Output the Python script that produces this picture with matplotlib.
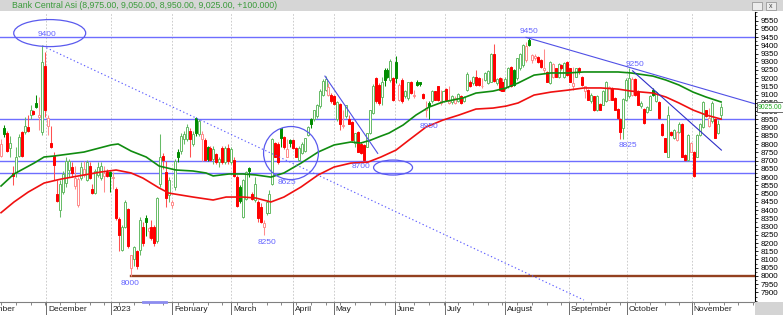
import numpy as np
import matplotlib
matplotlib.use("Agg")
import matplotlib.pyplot as plt
import matplotlib.transforms as mtransforms
from matplotlib.patches import Ellipse, Rectangle
from matplotlib.ticker import MultipleLocator

plt.rcParams["font.family"] = ["Liberation Sans", "DejaVu Sans"]

TICKER = "Bank Central Asi"
PREV_CLOSE = 8840  # close of the session just before the first candle

# daily candles, Nov 2022 -> Nov 2023
opens = [
    8730, 8900, 8870, 8775, 8625, 8625, 8730, 8875, 8875, 8905,
    8975, 9000, 9050, 8965, 8875, 9275, 8910, 8805, 8730, 8500,
    8400, 8510, 8565, 8645, 8660, 8545, 8430, 8595, 8610, 8585,
    8665, 8530, 8505, 8610, 8595, 8605, 8630, 8630, 8595, 8530,
    8345, 8160, 8300, 8405, 8050, 8100, 8150, 8160, 8300, 8350,
    8270, 8300, 8300, 8210, 8560, 8730, 8630, 8490, 8430, 8540,
    8755, 8760, 8830, 8830, 8880, 8800, 8960, 8860, 8830, 8825,
    8780, 8775, 8710, 8740, 8690, 8775, 8690, 8775, 8690, 8705,
    8600, 8540, 8360, 8470, 8655, 8500, 8460, 8450, 8420, 8300,
    8380, 8385, 8560, 8805, 8800, 8895, 8845, 8725, 8825, 8825,
    8775, 8705, 8745, 8760, 8855, 8950, 8950, 8970, 9030, 9100,
    9130, 9100, 9100, 9095, 8950, 9045, 8910, 8970, 8955, 8935,
    8805, 8875, 8800, 8795, 8785, 8865, 8990, 9200, 9160, 9088,
    9250, 9250, 9190, 9200, 9300, 9070, 9190, 9090, 9080, 9175,
    9090, 9180, 9175, 9105, 9010, 9047, 9060, 9120, 9150, 9050,
    9060, 9135, 9050, 9055, 9050, 9060, 9095, 9060, 9130, 9180,
    9170, 9210, 9200, 9150, 9190, 9170, 9180, 9345, 9170, 9200,
    9180, 9140, 9150, 9270, 9250, 9200, 9260, 9280, 9310, 9432,
    9310, 9320, 9330, 9310, 9250, 9240, 9170, 9210, 9260, 9210,
    9280, 9210, 9300, 9260, 9150, 9210, 9262, 9210, 9120, 9130,
    9060, 9090, 9010, 9045, 9040, 9060, 9070, 9140, 9080, 9015,
    8955, 8895, 9070, 9090, 9100, 9195, 9125, 9030, 9015, 8995,
    9010, 9130, 9060, 9055, 8925, 8835, 8725, 8875, 8835, 8825,
    8875, 8925, 8735, 8705, 8755, 8755, 8725, 8855, 8905, 9005,
    8910, 8940, 8955, 8870, 8975,
]
highs = [
    8830, 8915, 8880, 8850, 8665, 8785, 8860, 8880, 8965, 8975,
    9040, 9010, 9100, 9085, 9400, 9360, 8975, 8910, 8750, 8580,
    8580, 8640, 8720, 8710, 8690, 8665, 8600, 8690, 8700, 8705,
    8690, 8560, 8650, 8690, 8690, 8665, 8650, 8640, 8630, 8540,
    8360, 8310, 8460, 8410, 8130, 8180, 8160, 8360, 8330, 8370,
    8300, 8340, 8310, 8480, 8860, 8745, 8700, 8600, 8460, 8710,
    8770, 8870, 8880, 8920, 8900, 8880, 8965, 8950, 8880, 8835,
    8790, 8790, 8790, 8745, 8720, 8790, 8790, 8800, 8780, 8720,
    8610, 8550, 8590, 8640, 8660, 8510, 8600, 8460, 8440, 8340,
    8460, 8520, 8840, 8810, 8810, 8900, 8850, 8830, 8830, 8830,
    8780, 8790, 8810, 8840, 8910, 8960, 9010, 9045, 9135, 9195,
    9215, 9170, 9110, 9100, 9060, 9050, 9010, 9040, 8975, 8940,
    8870, 8880, 8810, 8800, 8870, 9010, 9165, 9210, 9170, 9210,
    9260, 9260, 9315, 9210, 9335, 9170, 9200, 9130, 9180, 9185,
    9130, 9190, 9180, 9110, 9060, 9060, 9130, 9125, 9155, 9130,
    9130, 9140, 9150, 9100, 9090, 9110, 9100, 9090, 9235, 9190,
    9215, 9250, 9205, 9200, 9235, 9250, 9355, 9405, 9200, 9205,
    9200, 9205, 9270, 9275, 9255, 9325, 9355, 9405, 9420, 9445,
    9350, 9350, 9335, 9315, 9380, 9245, 9305, 9290, 9265, 9290,
    9285, 9300, 9305, 9265, 9270, 9265, 9270, 9215, 9155, 9135,
    9110, 9095, 9100, 9050, 9130, 9185, 9150, 9145, 9085, 9020,
    8960, 9080, 9200, 9260, 9205, 9200, 9130, 9060, 9020, 9030,
    9100, 9140, 9120, 9060, 8930, 8840, 9030, 8880, 8890, 8880,
    8935, 8930, 8740, 8860, 8810, 8760, 8860, 8930, 9060, 9010,
    9020, 9060, 8960, 8945, 9050,
]
lows = [
    8720, 8845, 8750, 8725, 8555, 8600, 8720, 8725, 8860, 8875,
    8950, 8975, 9020, 8885, 8855, 8965, 8855, 8775, 8580, 8450,
    8360, 8500, 8540, 8600, 8600, 8525, 8420, 8580, 8600, 8575,
    8590, 8500, 8500, 8600, 8585, 8510, 8600, 8510, 8530, 8340,
    8150, 8150, 8290, 8170, 8000, 8060, 8040, 8130, 8180, 8240,
    8230, 8220, 8180, 8200, 8540, 8650, 8420, 8450, 8410, 8520,
    8690, 8740, 8800, 8820, 8720, 8790, 8850, 8850, 8700, 8700,
    8700, 8700, 8680, 8680, 8660, 8680, 8680, 8680, 8680, 8600,
    8420, 8440, 8350, 8460, 8600, 8460, 8450, 8330, 8320, 8250,
    8370, 8380, 8550, 8720, 8680, 8780, 8770, 8720, 8780, 8770,
    8720, 8700, 8740, 8750, 8850, 8900, 8940, 8960, 9020, 9090,
    9120, 9090, 9050, 9040, 8940, 8885, 8900, 8960, 8920, 8820,
    8780, 8750, 8740, 8700, 8780, 8860, 8980, 9050, 9040, 9040,
    9150, 9200, 9180, 9060, 9170, 9060, 9050, 9080, 9070, 9105,
    9080, 9150, 9150, 9075, 8965, 8955, 9050, 9065, 9060, 9040,
    9055, 9065, 9045, 9045, 9045, 9055, 9045, 9055, 9120, 9145,
    9160, 9155, 9155, 9140, 9185, 9165, 9175, 9175, 9160, 9125,
    9120, 9130, 9140, 9145, 9155, 9190, 9250, 9270, 9300, 9395,
    9290, 9310, 9295, 9265, 9230, 9175, 9165, 9200, 9205, 9200,
    9250, 9200, 9215, 9175, 9130, 9205, 9225, 9155, 9080, 9065,
    9050, 9000, 9000, 9005, 9035, 9055, 9065, 9065, 9005, 8955,
    8830, 8830, 9060, 9080, 9090, 9095, 9035, 9020, 8925, 8990,
    9005, 9095, 9055, 8955, 8850, 8750, 8720, 8850, 8830, 8820,
    8870, 8720, 8700, 8700, 8750, 8600, 8720, 8850, 8900, 8965,
    8905, 8930, 8835, 8860, 8950,
]
closes = [
    8800, 8860, 8760, 8805, 8605, 8725, 8845, 8730, 8910, 8880,
    9005, 8985, 9025, 8975, 9300, 9005, 8960, 8780, 8675, 8455,
    8560, 8620, 8700, 8700, 8625, 8595, 8590, 8660, 8650, 8690,
    8595, 8505, 8640, 8660, 8665, 8625, 8605, 8605, 8600, 8350,
    8250, 8300, 8450, 8180, 8125, 8175, 8060, 8340, 8200, 8330,
    8290, 8230, 8200, 8475, 8720, 8705, 8475, 8580, 8450, 8700,
    8725, 8850, 8860, 8905, 8830, 8860, 8870, 8940, 8860, 8705,
    8710, 8705, 8770, 8690, 8710, 8690, 8775, 8695, 8770, 8605,
    8425, 8455, 8580, 8630, 8635, 8465, 8560, 8350, 8330, 8320,
    8450, 8500, 8830, 8725, 8690, 8835, 8780, 8770, 8805, 8775,
    8725, 8775, 8800, 8835, 8905, 8925, 9005, 9035, 9125, 9185,
    9195, 9145, 9060, 9045, 9055, 8925, 8915, 9035, 8925, 8825,
    8865, 8755, 8745, 8705, 8865, 9005, 9155, 9060, 9050, 9180,
    9190, 9210, 9305, 9070, 9200, 9160, 9060, 9120, 9175, 9110,
    9100, 9160, 9165, 9080, 9020, 9030, 9125, 9070, 9065, 9060,
    9125, 9070, 9060, 9095, 9080, 9105, 9050, 9085, 9225, 9150,
    9210, 9160, 9158, 9155, 9230, 9245, 9345, 9185, 9195, 9130,
    9125, 9195, 9265, 9150, 9160, 9320, 9350, 9400, 9395, 9401,
    9340, 9335, 9300, 9270, 9265, 9180, 9300, 9285, 9210, 9285,
    9260, 9295, 9220, 9180, 9170, 9260, 9240, 9160, 9150, 9070,
    9100, 9010, 9095, 9010, 9125, 9180, 9145, 9070, 9010, 8960,
    8875, 9075, 9190, 9200, 9195, 9100, 9040, 9050, 8930, 9025,
    9095, 9100, 9115, 8960, 8855, 8755, 8975, 8855, 8885, 8875,
    8925, 8725, 8705, 8855, 8805, 8605, 8855, 8925, 9055, 8970,
    8960, 9050, 8840, 8925, 9025,
]

# moving averages (candle position, price)
green_pos = [0, 4.4, 11.2, 14.6, 18.0, 28.1, 37.3, 39.7, 44.1, 49.2,
             53.6, 59.3, 65.1, 69.5, 71.9, 77.3, 82.0, 86.4, 91.5, 95.9,
             101.7, 107.5, 112.9, 118.6, 122.0, 125.4, 128.8, 131.5, 136.3, 140.7,
             145.1, 149.8, 156.6, 161.0, 166.8, 171.2, 175.3, 180.7, 186.4, 192.2,
             197.6, 203.4, 209.2, 213.6, 221.0, 225.4, 229.8, 234.6, 239.0, 244.1]
green_ma = [8546, 8619, 8685, 8722, 8728, 8752, 8795, 8801, 8758, 8722,
            8667, 8643, 8637, 8625, 8607, 8619, 8619, 8613, 8600, 8625,
            8685, 8752, 8795, 8813, 8807, 8825, 8849, 8867, 8916, 8977,
            9025, 9056, 9080, 9110, 9122, 9141, 9171, 9219, 9232, 9232,
            9238, 9238, 9238, 9232, 9213, 9189, 9159, 9116, 9086, 9056]
red_pos = [0, 4.4, 9.2, 14.6, 20.3, 28.1, 33.9, 39.0, 44.1, 48.1,
           53.6, 56.9, 65.1, 71.9, 76.3, 82.0, 86.4, 91.5, 95.9, 101.7,
           107.5, 112.9, 118.6, 124.4, 128.8, 133.9, 138.3, 144.1, 149.8, 155.3,
           161.0, 166.8, 171.2, 175.3, 180.7, 186.4, 192.2, 197.6, 203.4, 209.2,
           213.6, 221.0, 225.4, 229.8, 234.6, 239.0, 244.1]
red_ma = [8384, 8449, 8509, 8564, 8588, 8613, 8631, 8643, 8625, 8594,
          8534, 8503, 8479, 8461, 8479, 8479, 8473, 8449, 8479, 8540,
          8613, 8661, 8685, 8691, 8722, 8764, 8825, 8904, 8946, 8977,
          9013, 9019, 9031, 9050, 9098, 9116, 9128, 9141, 9141, 9134,
          9122, 9110, 9086, 9050, 9007, 8977, 8952]

month_pos = [-9, 15.3, 37.3, 58.0, 78.0, 98.9, 112.8, 133.6, 150.5, 170.8, 192.4, 212.2, 234.2]
month_labels = ["November", "December", "2023", "February", "March", "April", "May",
                "June", "July", "August", "September", "October", "November"]

levels = [9450, 8950, 8700, 8625]
support_level = 8000
support_from = 44

trend_start = [(14.2, 9395), (178.0, 9448), (109.8, 9213), (214.1, 9245)]
trend_end = [(197.6, 7854), (255.9, 9043), (127.7, 8744), (244.2, 8764)]

ellipse_center = [(16.5, 9474), (98.3, 8746), (132.9, 8658)]
ellipse_size = [(24.4, 164), (18.6, 322), (13.2, 91)]

note_text = ["9400", "8000", "8250", "8625", "8700", "8950", "9450", "9250", "8825"]
note_pos = [15.6, 43.7, 90.0, 97.0, 122.0, 145.0, 178.9, 215.0, 212.4]
note_price = [9468, 7957, 8206, 8568, 8663, 8910, 9482, 9284, 8790]

W, H = 783, 315
fig = plt.figure(figsize=(W / 100, H / 100), dpi=100, facecolor="white")
ax = fig.add_axes([0, 13 / H, 755 / W, 290 / H])
ax.set_xlim(-0.35, 255.6)
ax.set_ylim(7842, 9602)

o = np.array(opens, float)
h = np.array(highs, float)
l = np.array(lows, float)
c = np.array(closes, float)
x = np.arange(len(c))

RED, PINK = "#ff0000", "#ff8c8c"
DK_GREEN, LT_GREEN = "#008c00", "#66bb66"

prev = np.r_[PREV_CLOSE, c[:-1]]
face, edge, wick = [], [], []
for oi, ci, pi in zip(o, c, prev):
    rising = ci >= pi
    if ci < oi:
        col = DK_GREEN if rising else RED
        face.append(col)
        edge.append(col)
        wick.append(DK_GREEN if rising else "#ff5050")
    else:
        col = LT_GREEN if rising else PINK
        face.append("white")
        edge.append(col)
        wick.append(col)

# month grid
for p in month_pos[1:]:
    ax.axvline(p, color="#c4c4c4", lw=0.6, dashes=(2, 2), zorder=1)

for lv in levels:
    ax.axhline(lv, color="#6e6eff", lw=1.0, zorder=2)
ax.plot([support_from, 260], [support_level, support_level], color="#93401f", lw=1.7, zorder=2)

ax.vlines(x, l, h, colors=wick, lw=0.75, zorder=3)
body_low = np.minimum(o, c)
body_h = np.maximum(np.abs(c - o), 5)
ax.bar(x, body_h, bottom=body_low, width=0.68, color=face, edgecolor=edge,
       linewidth=0.7, zorder=4)

ax.plot(green_pos, green_ma, color="#108c10", lw=1.2, zorder=5)
ax.plot(red_pos, red_ma, color="#f01010", lw=1.2, zorder=5)

for k, ((x0, y0), (x1, y1)) in enumerate(zip(trend_start, trend_end)):
    if k == 0:
        ax.plot([x0, x1], [y0, y1], color="#5c5cff", lw=0.8, linestyle=(0, (1.2, 2.2)), zorder=6)
    else:
        col = "#2e2ec8" if k == 3 else "#5050e6"
        ax.plot([x0, x1], [y0, y1], color=col, lw=0.8, zorder=6)

for (cx, cy), (ew, eh) in zip(ellipse_center, ellipse_size):
    ax.add_patch(Ellipse((cx, cy), ew, eh, fill=False, edgecolor="#5a5aee", lw=0.9, zorder=6))

for t, px, py in zip(note_text, note_pos, note_price):
    ax.text(px, py, t, color="#6464ff", fontsize=6, ha="center", va="center", zorder=7)

# axes and ticks
for s in ("left", "top"):
    ax.spines[s].set_visible(False)
ax.spines["right"].set_color("black")
ax.spines["right"].set_linewidth(0.8)
ax.spines["bottom"].set_color("#808080")
ax.spines["bottom"].set_linewidth(0.8)

ax.yaxis.tick_right()
ax.set_yticks(np.arange(7900, 9551, 50))
ax.yaxis.set_minor_locator(MultipleLocator(25))
ax.tick_params(axis="y", which="major", length=2.5, width=0.6, pad=1.5, labelsize=5.8)
ax.tick_params(axis="y", which="minor", length=1.3, width=0.5)

ax.set_xticks(month_pos[1:])
ax.set_xticklabels([])
ax.xaxis.set_minor_locator(MultipleLocator(5))
ax.tick_params(axis="x", which="major", length=9.4, width=0.6, color="#555555")
ax.tick_params(axis="x", which="minor", length=2.2, width=0.5, color="#555555")

trans = mtransforms.blended_transform_factory(ax.transData, ax.transAxes)
for p, lab in zip(month_pos, month_labels):
    ax.text(p + 0.6, -0.027, lab, transform=trans, fontsize=6, ha="left", va="center",
            color="#222222", clip_on=False)
ax.plot([48.1, 55.9], [0, 0], transform=trans, color="#8c8cf0", lw=2, clip_on=False, zorder=8)

# last price tag, drawn over the axis labels like the original
ytrans = mtransforms.blended_transform_factory(ax.transAxes, ax.transData)
ax.text(1.004, c[-1], f"{c[-1]:.2f}", transform=ytrans, fontsize=4.9, color="#22aa22",
        ha="left", va="center", clip_on=False, zorder=9,
        bbox=dict(boxstyle="square,pad=0.2", facecolor="white", edgecolor="#555555", lw=0.6))

# window title bar
fig.add_artist(Rectangle((0, 1 - 11 / H), 1, 11 / H, transform=fig.transFigure,
                         facecolor="#d6d6d6", edgecolor="none"))
chg = c[-1] - c[-2]
title = f"{TICKER} ({o[-1]:,.2f}, {h[-1]:,.2f}, {l[-1]:,.2f}, {c[-1]:,.2f}, +{chg:.3f})"
fig.text(12 / W, 1 - 5.5 / H, title, fontsize=6.3, color="#3b9b3b", ha="left", va="center")
for bx in (752, 766):
    fig.add_artist(Rectangle((bx / W, 1 - 9.5 / H), 10 / W, 7 / H, transform=fig.transFigure,
                             facecolor="#ececec", edgecolor="#8a8a8a", lw=0.5))
fig.text(771 / W, 1 - 6 / H, "x", fontsize=5, color="#444444", ha="center", va="center")

fig.add_artist(Rectangle((755 / W, 0), 28 / W, 13 / H, transform=fig.transFigure,
                         facecolor="#d4d4d4", edgecolor="none"))

fig.savefig("out.png", dpi=100, facecolor="white")
